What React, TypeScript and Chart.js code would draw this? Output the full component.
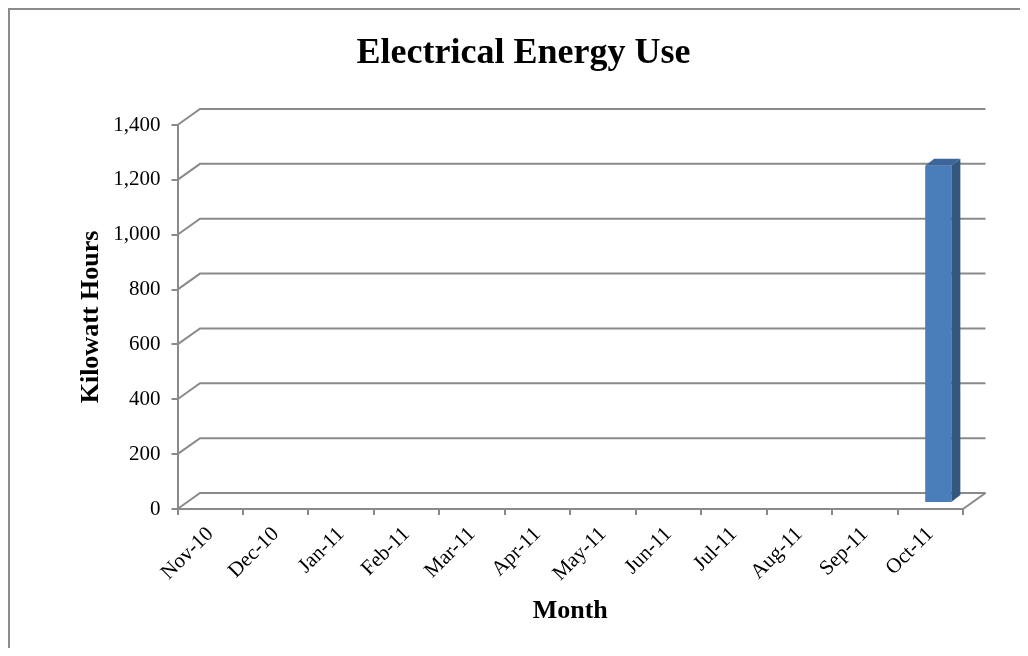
import React, { useEffect, useRef } from "react";
import { Chart, registerables } from "chart.js";

Chart.register(...registerables);

// ---- data ----
const months: string[] = [
  "Nov-10", "Dec-10", "Jan-11", "Feb-11", "Mar-11", "Apr-11",
  "May-11", "Jun-11", "Jul-11", "Aug-11", "Sep-11", "Oct-11",
];
const kwh: number[] = [0, 0, 0, 0, 0, 0, 0, 0, 0, 0, 0, 1230];
const yTicks: number[] = [0, 200, 400, 600, 800, 1000, 1200, 1400];

const TITLE = "Electrical Energy Use";
const X_TITLE = "Month";
const Y_TITLE = "Kilowatt Hours";

// ---- style ----
const FONT = "'Liberation Serif', 'Times New Roman', serif";
const GRID = "#8a8a8a";
const FRONT = "#4a7ebb";
const SIDE = "#34577f";
const TOP = "#3d659a";
const DEPTH_X = 22.5; // wall depth offset
const DEPTH_Y = -16;
const BAR_SHIFT_X = 8; // bar sits inside the depth
const BAR_SHIFT_Y = -6;
const BAR_DEPTH_X = 9;
const BAR_DEPTH_Y = -7;

const depthPlugin = {
  id: "depth3d",
  beforeDatasetsDraw(chart: any) {
    const { ctx, chartArea } = chart;
    const y = chart.scales.y;
    ctx.save();
    ctx.strokeStyle = GRID;
    ctx.lineWidth = 2;
    ctx.lineJoin = "miter";
    y.ticks.forEach((t: any) => {
      const py = y.getPixelForValue(t.value);
      ctx.beginPath();
      ctx.moveTo(chartArea.left, py);
      ctx.lineTo(chartArea.left + DEPTH_X, py + DEPTH_Y);
      ctx.lineTo(chartArea.right + DEPTH_X, py + DEPTH_Y);
      ctx.stroke();
    });
    const p0 = y.getPixelForValue(0);
    ctx.beginPath();
    ctx.moveTo(chartArea.right, p0);
    ctx.lineTo(chartArea.right + DEPTH_X, p0 + DEPTH_Y);
    ctx.stroke();
    ctx.restore();
    ctx.save();
    ctx.translate(BAR_SHIFT_X, BAR_SHIFT_Y);
  },
  afterDatasetsDraw(chart: any) {
    const { ctx } = chart;
    ctx.restore();
    const meta = chart.getDatasetMeta(0);
    meta.data.forEach((bar: any) => {
      const { x, y, base, width } = bar.getProps(["x", "y", "base", "width"], true);
      if (Math.abs(base - y) < 1) return;
      const l = x - width / 2 + BAR_SHIFT_X;
      const r = x + width / 2 + BAR_SHIFT_X;
      const t = y + BAR_SHIFT_Y;
      const b = base + BAR_SHIFT_Y;
      ctx.save();
      // side face
      ctx.fillStyle = SIDE;
      ctx.beginPath();
      ctx.moveTo(r, t);
      ctx.lineTo(r + BAR_DEPTH_X, t + BAR_DEPTH_Y);
      ctx.lineTo(r + BAR_DEPTH_X, b + BAR_DEPTH_Y);
      ctx.lineTo(r, b);
      ctx.closePath();
      ctx.fill();
      // top face
      ctx.fillStyle = TOP;
      ctx.beginPath();
      ctx.moveTo(l, t);
      ctx.lineTo(l + BAR_DEPTH_X, t + BAR_DEPTH_Y);
      ctx.lineTo(r + BAR_DEPTH_X, t + BAR_DEPTH_Y);
      ctx.lineTo(r, t);
      ctx.closePath();
      ctx.fill();
      ctx.restore();
    });
  },
};

export default function App() {
  const ref = useRef<HTMLCanvasElement>(null);

  useEffect(() => {
    if (!ref.current) return;
    const chart = new Chart(ref.current, {
      type: "bar",
      data: {
        labels: months,
        datasets: [
          {
            label: "kWh",
            data: kwh,
            backgroundColor: FRONT,
            borderWidth: 0,
            barPercentage: 0.4,
            categoryPercentage: 1,
          },
        ],
      },
      plugins: [depthPlugin],
      options: {
        responsive: false,
        animation: false,
        devicePixelRatio: 1,
        layout: { padding: { left: 74, right: 57, top: 22, bottom: 9 } },
        plugins: {
          legend: { display: false },
          tooltip: { enabled: false },
          title: {
            display: true,
            text: TITLE,
            color: "#000",
            font: { family: FONT, size: 36, weight: "bold", lineHeight: 1.2 },
            padding: { top: 0, bottom: 49.8 },
          },
        },
        scales: {
          x: {
            offset: true,
            grid: {
              display: true,
              offset: true,
              drawOnChartArea: false,
              drawTicks: true,
              tickLength: 6,
              color: GRID,
              lineWidth: 2,
            },
            border: { display: true, color: GRID, width: 2 },
            ticks: {
              autoSkip: false,
              maxRotation: 45,
              minRotation: 45,
              padding: 7,
              color: "#000",
              font: { family: FONT, size: 21 },
            },
            title: {
              display: true,
              text: X_TITLE,
              color: "#000",
              font: { family: FONT, size: 26, weight: "bold", lineHeight: 1.2 },
              padding: { top: 0, bottom: 12 },
            },
            afterFit(scale: any) {
              scale.height = 130;
            },
          },
          y: {
            min: 0,
            max: 1400,
            afterBuildTicks(scale: any) {
              scale.ticks = yTicks.map((v) => ({ value: v }));
            },
            grid: {
              display: true,
              drawOnChartArea: false,
              drawTicks: true,
              tickLength: 6,
              color: GRID,
              lineWidth: 2,
            },
            border: { display: true, color: GRID, width: 2 },
            ticks: {
              padding: 11,
              color: "#000",
              font: { family: FONT, size: 21 },
              callback: (v: any) => Number(v).toLocaleString("en-US"),
            },
            title: {
              display: true,
              text: Y_TITLE,
              color: "#000",
              font: { family: FONT, size: 26, weight: "bold", lineHeight: 1.2 },
              padding: { top: -8, bottom: 0 },
            },
            afterFit(scale: any) {
              scale.width = 93.5;
            },
          },
        },
      } as any,
    });
    return () => chart.destroy();
  }, []);

  return (
    <div
      style={{
        position: "relative",
        width: 1010,
        height: 638,
        borderLeft: "2px solid #8c8c8c",
        borderTop: "2px solid #8c8c8c",
        background: "#fff",
      }}
    >
      <canvas ref={ref} width={1010} height={638} style={{ display: "block" }} />
    </div>
  );
}
